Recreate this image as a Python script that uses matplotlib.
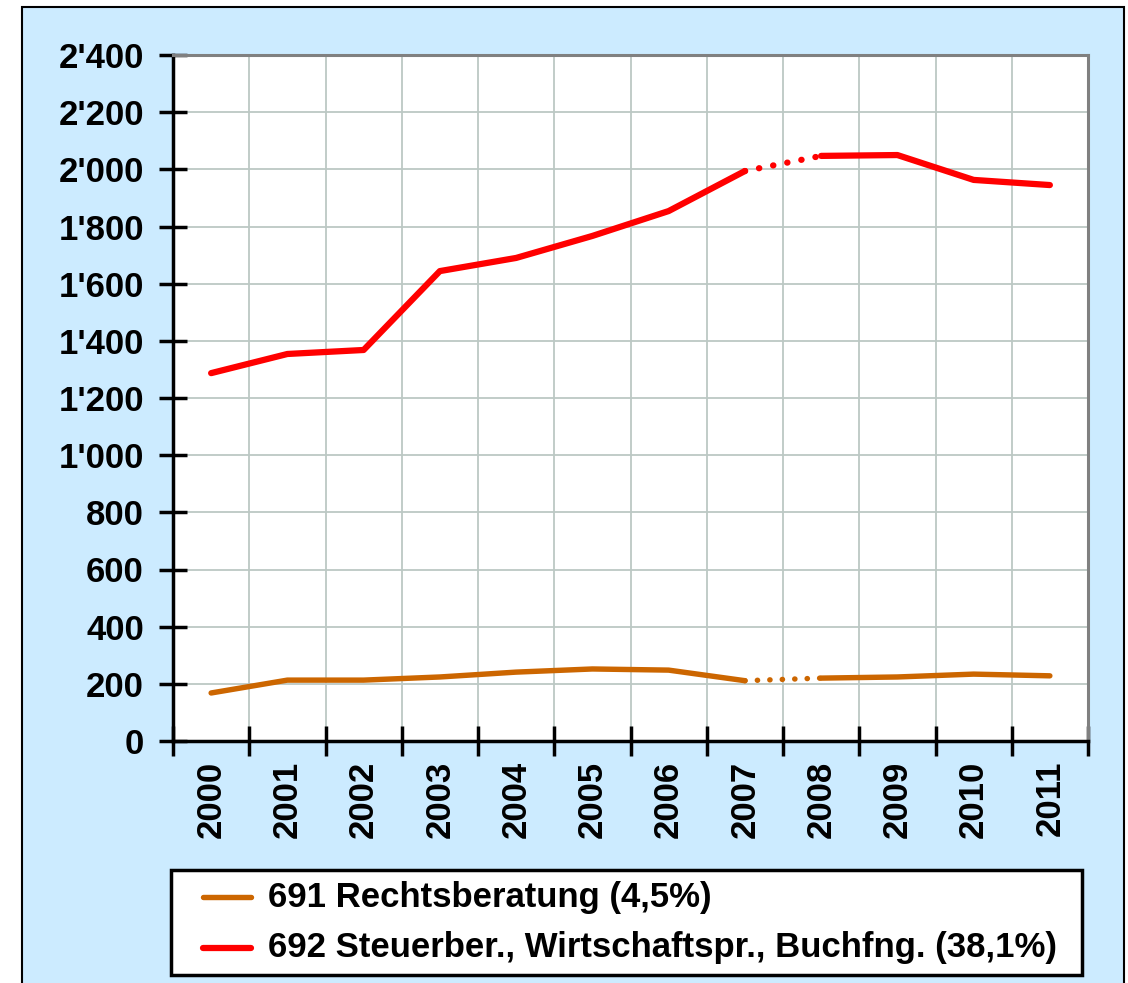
import matplotlib
matplotlib.use("Agg")
import matplotlib.pyplot as plt
from matplotlib.lines import Line2D
from matplotlib.patches import Rectangle
from matplotlib.ticker import FuncFormatter, FixedLocator

years = ["2000", "2001", "2002", "2003", "2004", "2005",
         "2006", "2007", "2008", "2009", "2010", "2011"]
recht = [168, 213, 213, 224, 241, 252, 248, 211, 220, 224, 234, 228]
steuer = [1287, 1354, 1368, 1644, 1690, 1767, 1854, 1994, 2047, 2050, 1963, 1945]
labels = ["691 Rechtsberatung (4,5%)",
          "692 Steuerber., Wirtschaftspr., Buchfng. (38,1%)"]
colors = ["#CC6600", "#FF0000"]
widths = [3.9, 4.5]
break_idx = 7  # dotted link between 2007 and 2008

plt.rcParams['font.family'] = ['Liberation Sans', 'DejaVu Sans']
plt.rcParams['font.weight'] = 'bold'

W, H = 1128, 983
fig = plt.figure(figsize=(W / 100, H / 100), dpi=100, facecolor="white")


def fx(px):
    return px / W


def fy(py):
    return (H - py) / H


# blue chart frame
fig.patches.append(Rectangle((fx(22), -0.05), fx(1124) - fx(22), fy(7) + 0.05,
                             transform=fig.transFigure, facecolor="#CCEBFF",
                             edgecolor="black", linewidth=1.5, zorder=-5))

ax = fig.add_axes([fx(173), fy(741), fx(1088) - fx(173), fy(55) - fy(741)])
ax.set_facecolor("white")

x = list(range(len(years)))
for vals, c, lw in zip([recht, steuer], colors, widths):
    ax.plot(x[:break_idx + 1], vals[:break_idx + 1], color=c, lw=lw,
            solid_capstyle="round", solid_joinstyle="round", zorder=3)
    ax.plot(x[break_idx + 1:], vals[break_idx + 1:], color=c, lw=lw,
            solid_capstyle="round", solid_joinstyle="round", zorder=3)
    ax.plot(x[break_idx:break_idx + 2], vals[break_idx:break_idx + 2], color=c, lw=lw,
            linestyle=(0, (0.05, 2.25)), dash_capstyle="round", zorder=3)

ax.set_xlim(-0.5, len(years) - 0.5)
ax.set_ylim(0, 2400)
ax.set_yticks(range(0, 2401, 200))
ax.yaxis.set_major_formatter(FuncFormatter(lambda v, p: f"{int(v):,}".replace(",", "'")))

ax.xaxis.set_major_locator(FixedLocator([i - 0.5 for i in range(len(years) + 1)]))
ax.xaxis.set_minor_locator(FixedLocator(x))
ax.set_xticklabels([], minor=False)
ax.set_xticklabels(years, minor=True, rotation=90)
ax.tick_params(axis="x", which="minor", length=0, pad=14, labelsize=25)
ax.tick_params(axis="x", which="major", direction="inout", length=22, width=2.5, color="black")
ax.tick_params(axis="y", direction="inout", length=20, width=2.5, color="black",
               labelsize=25, pad=11)
for lab in ax.get_xticklabels(minor=True) + ax.get_yticklabels():
    lab.set_fontweight("bold")

ax.grid(True, which="major", color="#BCC8C4", linewidth=1.3, zorder=1)
ax.set_axisbelow(True)

ax.spines["left"].set_color("black")
ax.spines["left"].set_linewidth(2.5)
ax.spines["bottom"].set_color("black")
ax.spines["bottom"].set_linewidth(2.5)
ax.spines["top"].set_color("#808080")
ax.spines["top"].set_linewidth(2.2)
ax.spines["right"].set_color("#808080")
ax.spines["right"].set_linewidth(2.2)

# legend (drawn as a boxed key below the plot)
fig.patches.append(Rectangle((fx(171), fy(975)), fx(1082) - fx(171), fy(870) - fy(975),
                             transform=fig.transFigure, facecolor="white",
                             edgecolor="black", linewidth=2.5, zorder=5))
for i, (lab, c, lw) in enumerate(zip(labels, colors, widths)):
    yy = fy(897 + 51 * i)
    fig.lines.append(Line2D([fx(203), fx(251)], [yy, yy], transform=fig.transFigure,
                            color=c, lw=lw, solid_capstyle="round", zorder=6))
    fig.text(fx(268), yy, lab, fontsize=25, fontweight="bold", va="center", ha="left",
             zorder=6)

fig.savefig("out.png", dpi=100, facecolor="white")
